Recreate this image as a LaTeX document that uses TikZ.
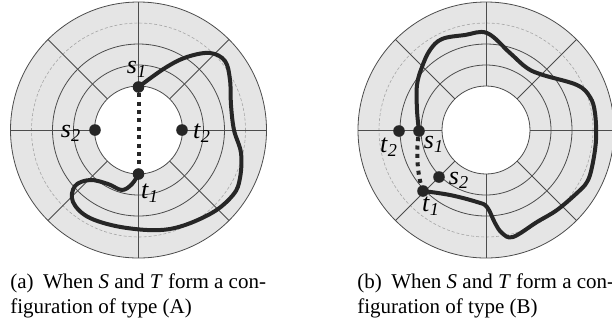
\documentclass[tikz,border=0pt]{standalone}
\usepackage{fontspec}
\setmainfont{Liberation Serif}
\pgfdeclarelayer{bg}
\pgfdeclarelayer{mid}
\pgfsetlayers{bg,mid,main}
\newcommand{\lbl}[2]{\textit{#1}\textsubscript{\textit{#2}}}
\begin{document}
\begin{tikzpicture}[x=0.5pt,y=-0.5pt,
  pt/.style={circle,fill=black!85,inner sep=0pt,minimum size=5.8pt},
  lab/.style={inner sep=0pt,font=\fontsize{13}{15}\selectfont},
  ring/.style={draw=black!70,line width=0.4pt},
  route/.style={line width=2pt,black!85,line cap=round,line join=round},
  link/.style={line width=2pt,black!85,dash pattern=on 2pt off 2.2pt},
  capt/.style={anchor=base west,inner sep=0pt,font=\fontsize{10.5}{12.5}\selectfont}]
\useasboundingbox (0,0) rectangle (612,328);
\begin{pgfonlayer}{bg}
\foreach \cx in {138.5,486} {
  \fill[black!10,even odd rule] (\cx,130) circle[radius=128] circle[radius=44];
  \foreach \r in {44,65,86,128} \draw[ring] (\cx,130) circle[radius=\r];
  \draw[black!35,line width=0.3pt,dash pattern=on 1.5pt off 1pt] (\cx,130) circle[radius=107];
  \foreach \a in {0,45,...,315} \draw[ring] (\cx,130) ++(\a:44) -- ++(\a:84);
}
\end{pgfonlayer}
% (a) type A
\node[pt] (s1a) at (138.5,87) {};
\node[pt] (t1a) at (138.5,174) {};
\node[pt] (s2a) at (95,130) {};
\node[pt] (t2a) at (182,130) {};
\node[lab] (ls1a) at (137,69) {\lbl{s}{1}};
\node[lab] (lt1a) at (150,193) {\lbl{t}{1}};
\node[lab] (ls2a) at (71,133) {\lbl{s}{2}};
\node[lab] (lt2a) at (202,133) {\lbl{t}{2}};
\begin{pgfonlayer}{mid}
\draw[link] (s1a) -- (t1a);
\draw[route] plot[smooth,tension=0.6] coordinates {(s1a) (165,68) (187,57) (210,53) (225,61)
  (230,80) (231,105) (234,130) (241,153) (240,178) (233,195) (210,214) (170,229) (127,228)
  (90,218) (73,202) (75,186) (90,180) (108,184) (122,190) (132,184) (t1a)};
\end{pgfonlayer}
% (b) type B
\node[pt] (s1b) at (419,131) {};
\node[pt] (t1b) at (423,191) {};
\node[pt] (s2b) at (439,177) {};
\node[pt] (t2b) at (399,131) {};
\node[lab] (ls1b) at (434,144) {\lbl{s}{1}};
\node[lab] (lt1b) at (431,206) {\lbl{t}{1}};
\node[lab] (ls2b) at (459,180) {\lbl{s}{2}};
\node[lab] (lt2b) at (389,147) {\lbl{t}{2}};
\begin{pgfonlayer}{mid}
\draw[link] (s1b) .. controls (416,155) and (418,175) .. (t1b);
\draw[route] plot[smooth,tension=0.6] coordinates {(s1b) (417,110) (417,85) (422,67) (430,50)
  (442,39) (465,35) (487,33) (510,53) (527,68) (543,75) (577,85) (590,97) (595,113) (596,140)
  (592,167) (587,182) (577,193) (557,210) (537,222) (513,237) (502,233) (495,223) (487,207)
  (477,202) (450,195) (t1b)};
\end{pgfonlayer}
% captions
\node[capt] (capa1) at (10,288) {(a)\hspace{0.45em}When \textit{S} and \textit{T} form a con-};
\node[capt] (capa2) at (10,313) {figuration of type (A)};
\node[capt] (capb1) at (357,288) {(b)\hspace{0.45em}When \textit{S} and \textit{T} form a con-};
\node[capt] (capb2) at (357,313) {figuration of type (B)};
\end{tikzpicture}
\end{document}
